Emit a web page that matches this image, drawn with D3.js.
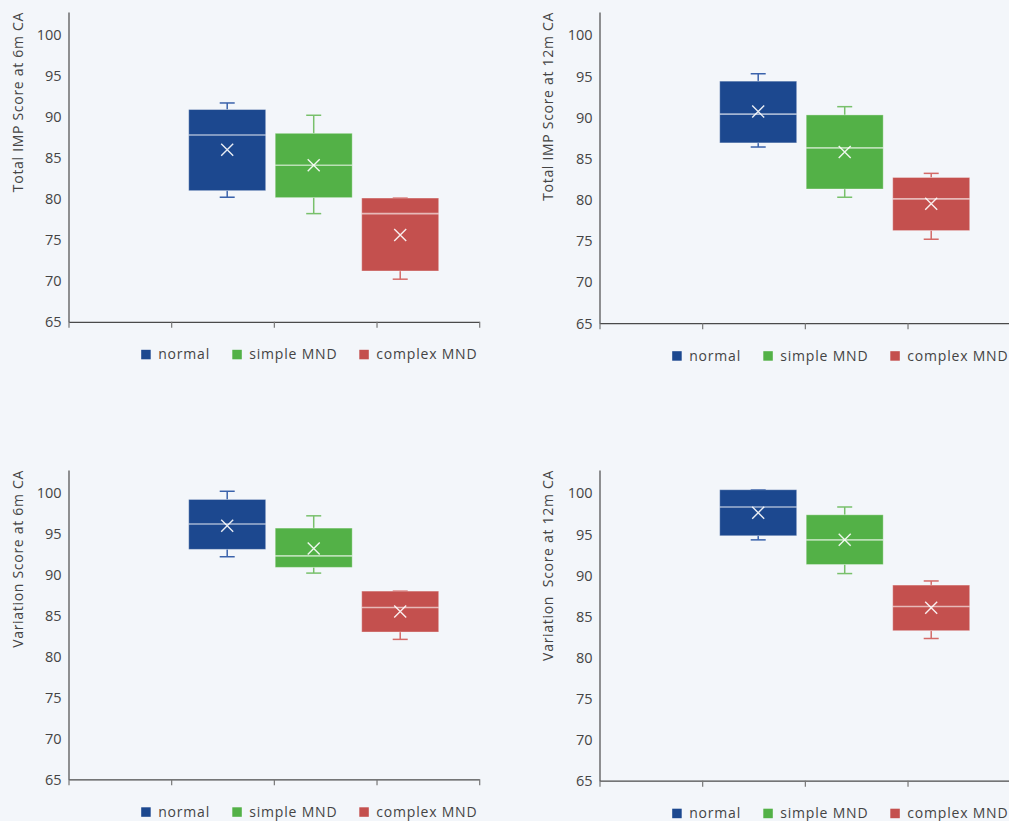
<!DOCTYPE html>
<html>
<head>
<meta charset="utf-8">
<script src="https://cdn.jsdelivr.net/npm/d3@7"></script>
<style>
  html, body { margin: 0; padding: 0; background: #f3f6fa; }
  svg { display: block; }
  text { font-family: "Open Sans", "Noto Sans", sans-serif; fill: #444; }
</style>
</head>
<body>
<svg id="chart" width="1009" height="821"></svg>
<script>
// ---------- data ----------
const categories = ["normal", "simple MND", "complex MND"];
const colors = ["#1c488f", "#53b147", "#c4504e"];
const whiskerColors = ["#3a62ab", "#78c06b", "#d46a68"];
const yTicks = [65, 70, 75, 80, 85, 90, 95, 100];
const statKeys = ["min", "q1", "median", "q3", "max", "mean"];
const titles = ["Total IMP Score at 6m CA", "Total IMP Score at 12m CA",
                "Variation Score at 6m CA", "Variation\u00a0 Score at 12m CA"];
// per category: [min, q1, median, q3, max, mean]
const imp6m = [
  [80.2, 81.0, 87.8, 90.9, 91.7, 86.0],
  [78.2, 80.15, 84.1, 88.0, 90.2, 84.1],
  [70.2, 71.2, 78.2, 80.1, 80.1, 75.6]
];
const imp12m = [
  [86.4, 86.9, 90.4, 94.4, 95.3, 90.7],
  [80.3, 81.3, 86.3, 90.3, 91.3, 85.8],
  [75.2, 76.25, 80.1, 82.7, 83.2, 79.5]
];
const var6m = [
  [92.2, 93.1, 96.2, 99.2, 100.2, 96.0],
  [90.2, 90.9, 92.3, 95.7, 97.2, 93.2],
  [82.1, 83.0, 86.0, 88.0, 88.0, 85.5]
];
const var12m = [
  [94.3, 94.8, 98.3, 100.4, 100.4, 97.6],
  [90.2, 91.3, 94.3, 97.35, 98.3, 94.3],
  [82.3, 83.25, 86.2, 88.8, 89.3, 86.05]
];
const panelData = [imp6m, imp12m, var6m, var12m];

// ---------- layout ----------
const panels = [
  { x0: 68.5, x1: 479.2, top: 12, bottom: 321.8, titleX: 18.5 },
  { x0: 599.5, x1: 1010.2, top: 12, bottom: 323.2, titleX: 548.5 },
  { x0: 68.5, x1: 479.2, top: 470, bottom: 779.3, titleX: 18.5 },
  { x0: 599.5, x1: 1010.2, top: 470, bottom: 780.7, titleX: 548.5 }
];
const yMax = 102.8;

const svg = d3.select("#chart");

panels.forEach((p, i) => {
  const data = panelData[i].map((row, ci) => {
    const o = { cat: categories[ci], ci };
    statKeys.forEach((k, j) => o[k] = row[j]);
    return o;
  });
  const g = svg.append("g");
  const y = d3.scaleLinear().domain([65, yMax]).range([p.bottom, p.top]);
  const w = p.x1 - p.x0;
  const xTick = d3.scaleLinear().domain([0, 4]).range([p.x0, p.x1]);
  const xb = d3.scaleBand().domain(categories)
      .range([p.x0 + w * 0.2927, p.x0 + w * 0.9014])
      .paddingInner(0.11).paddingOuter(0);

  // y axis
  const ya = g.append("g").attr("transform", `translate(${p.x0},0)`)
    .call(d3.axisLeft(y).tickValues(yTicks.concat([yMax])).tickSize(0).tickPadding(7)
      .tickFormat(d => d === yMax ? "" : d));
  ya.select(".domain").attr("stroke", "#4a4a4a").attr("stroke-width", 1.2);
  ya.selectAll("text").style("font-size", "14.5px").attr("fill", "#4a4a4a")
    .style("font-family", "'Open Sans', sans-serif").attr("dy", "0.34em");

  // x axis
  const xa = g.append("g").attr("transform", `translate(0,${p.bottom})`)
    .call(d3.axisBottom(xTick).tickValues([0, 1, 2, 3, 4]).tickSize(6).tickSizeOuter(0).tickFormat(""));
  xa.select(".domain").attr("stroke", "#4a4a4a").attr("stroke-width", 1.2);
  xa.selectAll(".tick line").attr("stroke", "#777").attr("stroke-width", 1.2);

  // axis title
  g.append("text")
    .attr("transform", `translate(${p.titleX},${p.top}) rotate(-90)`)
    .attr("text-anchor", "end").attr("dy", "0.35em")
    .style("font-size", "14px").style("letter-spacing", "0.7px")
    .attr("fill", "#444")
    .text(titles[i]);

  const bw = xb.bandwidth();
  const boxes = g.selectAll("g.box").data(data).join("g").attr("class", "box");
  const cx = d => xb(d.cat) + bw / 2;
  // whiskers
  boxes.append("line")
    .attr("x1", cx).attr("x2", cx)
    .attr("y1", d => y(d.max)).attr("y2", d => y(d.q3))
    .attr("stroke", d => whiskerColors[d.ci]).attr("stroke-width", 1.5);
  boxes.append("line")
    .attr("x1", cx).attr("x2", cx)
    .attr("y1", d => y(d.q1)).attr("y2", d => y(d.min))
    .attr("stroke", d => whiskerColors[d.ci]).attr("stroke-width", 1.5);
  boxes.append("line")
    .attr("x1", d => cx(d) - 7.5).attr("x2", d => cx(d) + 7.5)
    .attr("y1", d => y(d.max)).attr("y2", d => y(d.max))
    .attr("stroke", d => whiskerColors[d.ci]).attr("stroke-width", 1.5);
  boxes.append("line")
    .attr("x1", d => cx(d) - 7.5).attr("x2", d => cx(d) + 7.5)
    .attr("y1", d => y(d.min)).attr("y2", d => y(d.min))
    .attr("stroke", d => whiskerColors[d.ci]).attr("stroke-width", 1.5);
  // box
  boxes.append("rect")
    .attr("x", d => xb(d.cat)).attr("width", bw)
    .attr("y", d => y(d.q3)).attr("height", d => y(d.q1) - y(d.q3))
    .attr("fill", d => colors[d.ci])
    .attr("stroke", "rgba(255,255,255,0.35)").attr("stroke-width", 1);
  // median
  boxes.append("line")
    .attr("x1", d => xb(d.cat)).attr("x2", d => xb(d.cat) + bw)
    .attr("y1", d => y(d.median)).attr("y2", d => y(d.median))
    .attr("stroke", "rgba(255,255,255,0.6)").attr("stroke-width", 1.6);
  // mean X
  const r = 6;
  boxes.append("path")
    .attr("d", d => {
      const x = cx(d), yy = y(d.mean);
      return `M${x - r},${yy - r}L${x + r},${yy + r}M${x - r},${yy + r}L${x + r},${yy - r}`;
    })
    .attr("stroke", "rgba(255,255,255,0.9)").attr("stroke-width", 1.4).attr("fill", "none");

  // legend
  const lg = g.append("g").attr("transform", `translate(${p.x0},${p.bottom + 32.5})`);
  const legendX = [72.7, 163.8, 290.8];
  categories.forEach((c, ci) => {
    lg.append("rect").attr("x", legendX[ci]).attr("y", -4.5).attr("width", 9.5).attr("height", 9.5)
      .attr("fill", colors[ci]);
    lg.append("text").attr("x", legendX[ci] + 17).attr("y", 0).attr("dy", "0.36em")
      .style("font-size", "14px").style("letter-spacing", "0.8px").attr("fill", "#444")
      .text(c);
  });
});
</script>
</body>
</html>
